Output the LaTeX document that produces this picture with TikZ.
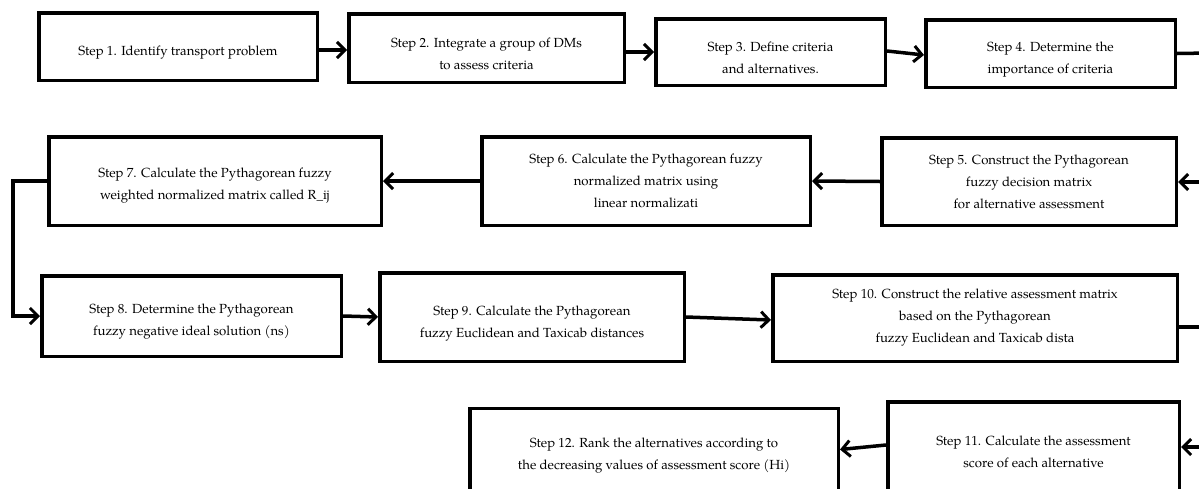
\documentclass[tikz,border=0pt]{standalone}
\usepackage{fontspec}
\setmainfont{texgyrepagella}[Extension=.otf, UprightFont=*-regular]
\usetikzlibrary{arrows.meta}
\newcommand{\lowstrut}[1]{\rule{0pt}{#1}}
\tikzset{
  stepbox/.style={draw=black, line width=3.5pt, fill=white, align=center, inner sep=0pt,
    font=\fontsize{13.2}{22}\selectfont},
  conn/.style={line width=3.5pt},
  arr/.style={line width=3.5pt, -{Straight Barb[length=8pt,width=16pt,line width=3pt]}}
}
\begin{document}
\begin{tikzpicture}[x=1pt,y=-1pt]
\useasboundingbox (0,0) rectangle (1199,488);
\clip (0,0) rectangle (1199,488);
\node[stepbox, minimum width=278.5pt, minimum height=67.5pt] (s1) at (178,46.5) {\lowstrut{21pt}Step 1. Identify transport problem};
\node[stepbox, minimum width=275.5pt, minimum height=68.5pt] (s2) at (486.5,48) {\lowstrut{21pt}Step 2. Integrate a group of DMs\\to assess criteria};
\node[stepbox, minimum width=229.5pt, minimum height=66.5pt] (s3) at (770.5,52) {\lowstrut{21pt}Step 3. Define criteria\\and alternatives.};
\node[stepbox, minimum width=249.5pt, minimum height=67.5pt] (s4) at (1050.5,53.5) {\lowstrut{21pt}Step 4. Determine the\\importance of criteria};
\node[stepbox, minimum width=294.5pt, minimum height=87.5pt] (s5) at (1029,181.5) {Step 5. Construct the Pythagorean\\fuzzy decision matrix\\for alternative assessment};
\node[stepbox, minimum width=328.5pt, minimum height=88.5pt] (s6) at (646,181) {Step 6. Calculate the Pythagorean fuzzy\\normalized matrix using\\linear normalizati};
\node[stepbox, minimum width=332.5pt, minimum height=88.5pt] (s7) at (215,181) {\lowstrut{19pt}Step 7. Calculate the Pythagorean fuzzy\\weighted normalized matrix called R\_ij};
\node[stepbox, minimum width=299.5pt, minimum height=80.5pt] (s8) at (191.5,316) {\lowstrut{21pt}Step 8. Determine the Pythagorean\\fuzzy negative ideal solution (ns)};
\node[stepbox, minimum width=304.5pt, minimum height=88.5pt] (s9) at (532,317) {\lowstrut{22pt}Step 9. Calculate the Pythagorean\\fuzzy Euclidean and Taxicab distances};
\node[stepbox, minimum width=404.5pt, minimum height=86.5pt] (s10) at (975,318) {Step 10. Construct the relative assessment matrix\\based on the Pythagorean\\fuzzy Euclidean and Taxicab dista};
\node[stepbox, minimum width=291.5pt, minimum height=100pt] (s11) at (1033.5,452) {Step 11. Calculate the assessment\\score of each alternative};
\node[stepbox, minimum width=368.5pt, minimum height=88pt] (s12) at (654,452.5) {\lowstrut{16pt}Step 12. Rank the alternatives according to\\the decreasing values of assessment score (Hi)};
\coordinate (e4) at (1210,53);
\coordinate (e5) at (1210,182);
\coordinate (e10) at (1210,327);
\coordinate (e11) at (1210,447);
\coordinate (k) at (13,181);
\draw[arr] ([yshift=-3.5pt]s1.east) -- ([yshift=-2pt]s2.west);
\draw[arr] ([yshift=-4pt]s2.east) -- (s3.west);
\draw[arr] ([yshift=1pt]s3.east) -- ([yshift=-1.5pt]s4.west);
\draw[conn] (s4.east) -- (e4);
\draw[arr] (e5) -- (e5 -| s5.east);
\draw[arr] (s5.west) -- (s6.east);
\draw[arr] (s6.west) -- (s7.east);
\draw[arr] (s7.west) -- (k) |- (s8.west);
\draw[arr] (s8.east) -- (s9.west);
\draw[arr] (s9.east) -- ([yshift=-2pt]s10.west);
\draw[conn] ([yshift=-9pt]s10.east) -- (e10);
\draw[arr] (e11) -- (e11 -| s11.east);
\draw[arr] ([yshift=7pt]s11.west) -- ([yshift=3pt]s12.east);
\end{tikzpicture}
\end{document}
